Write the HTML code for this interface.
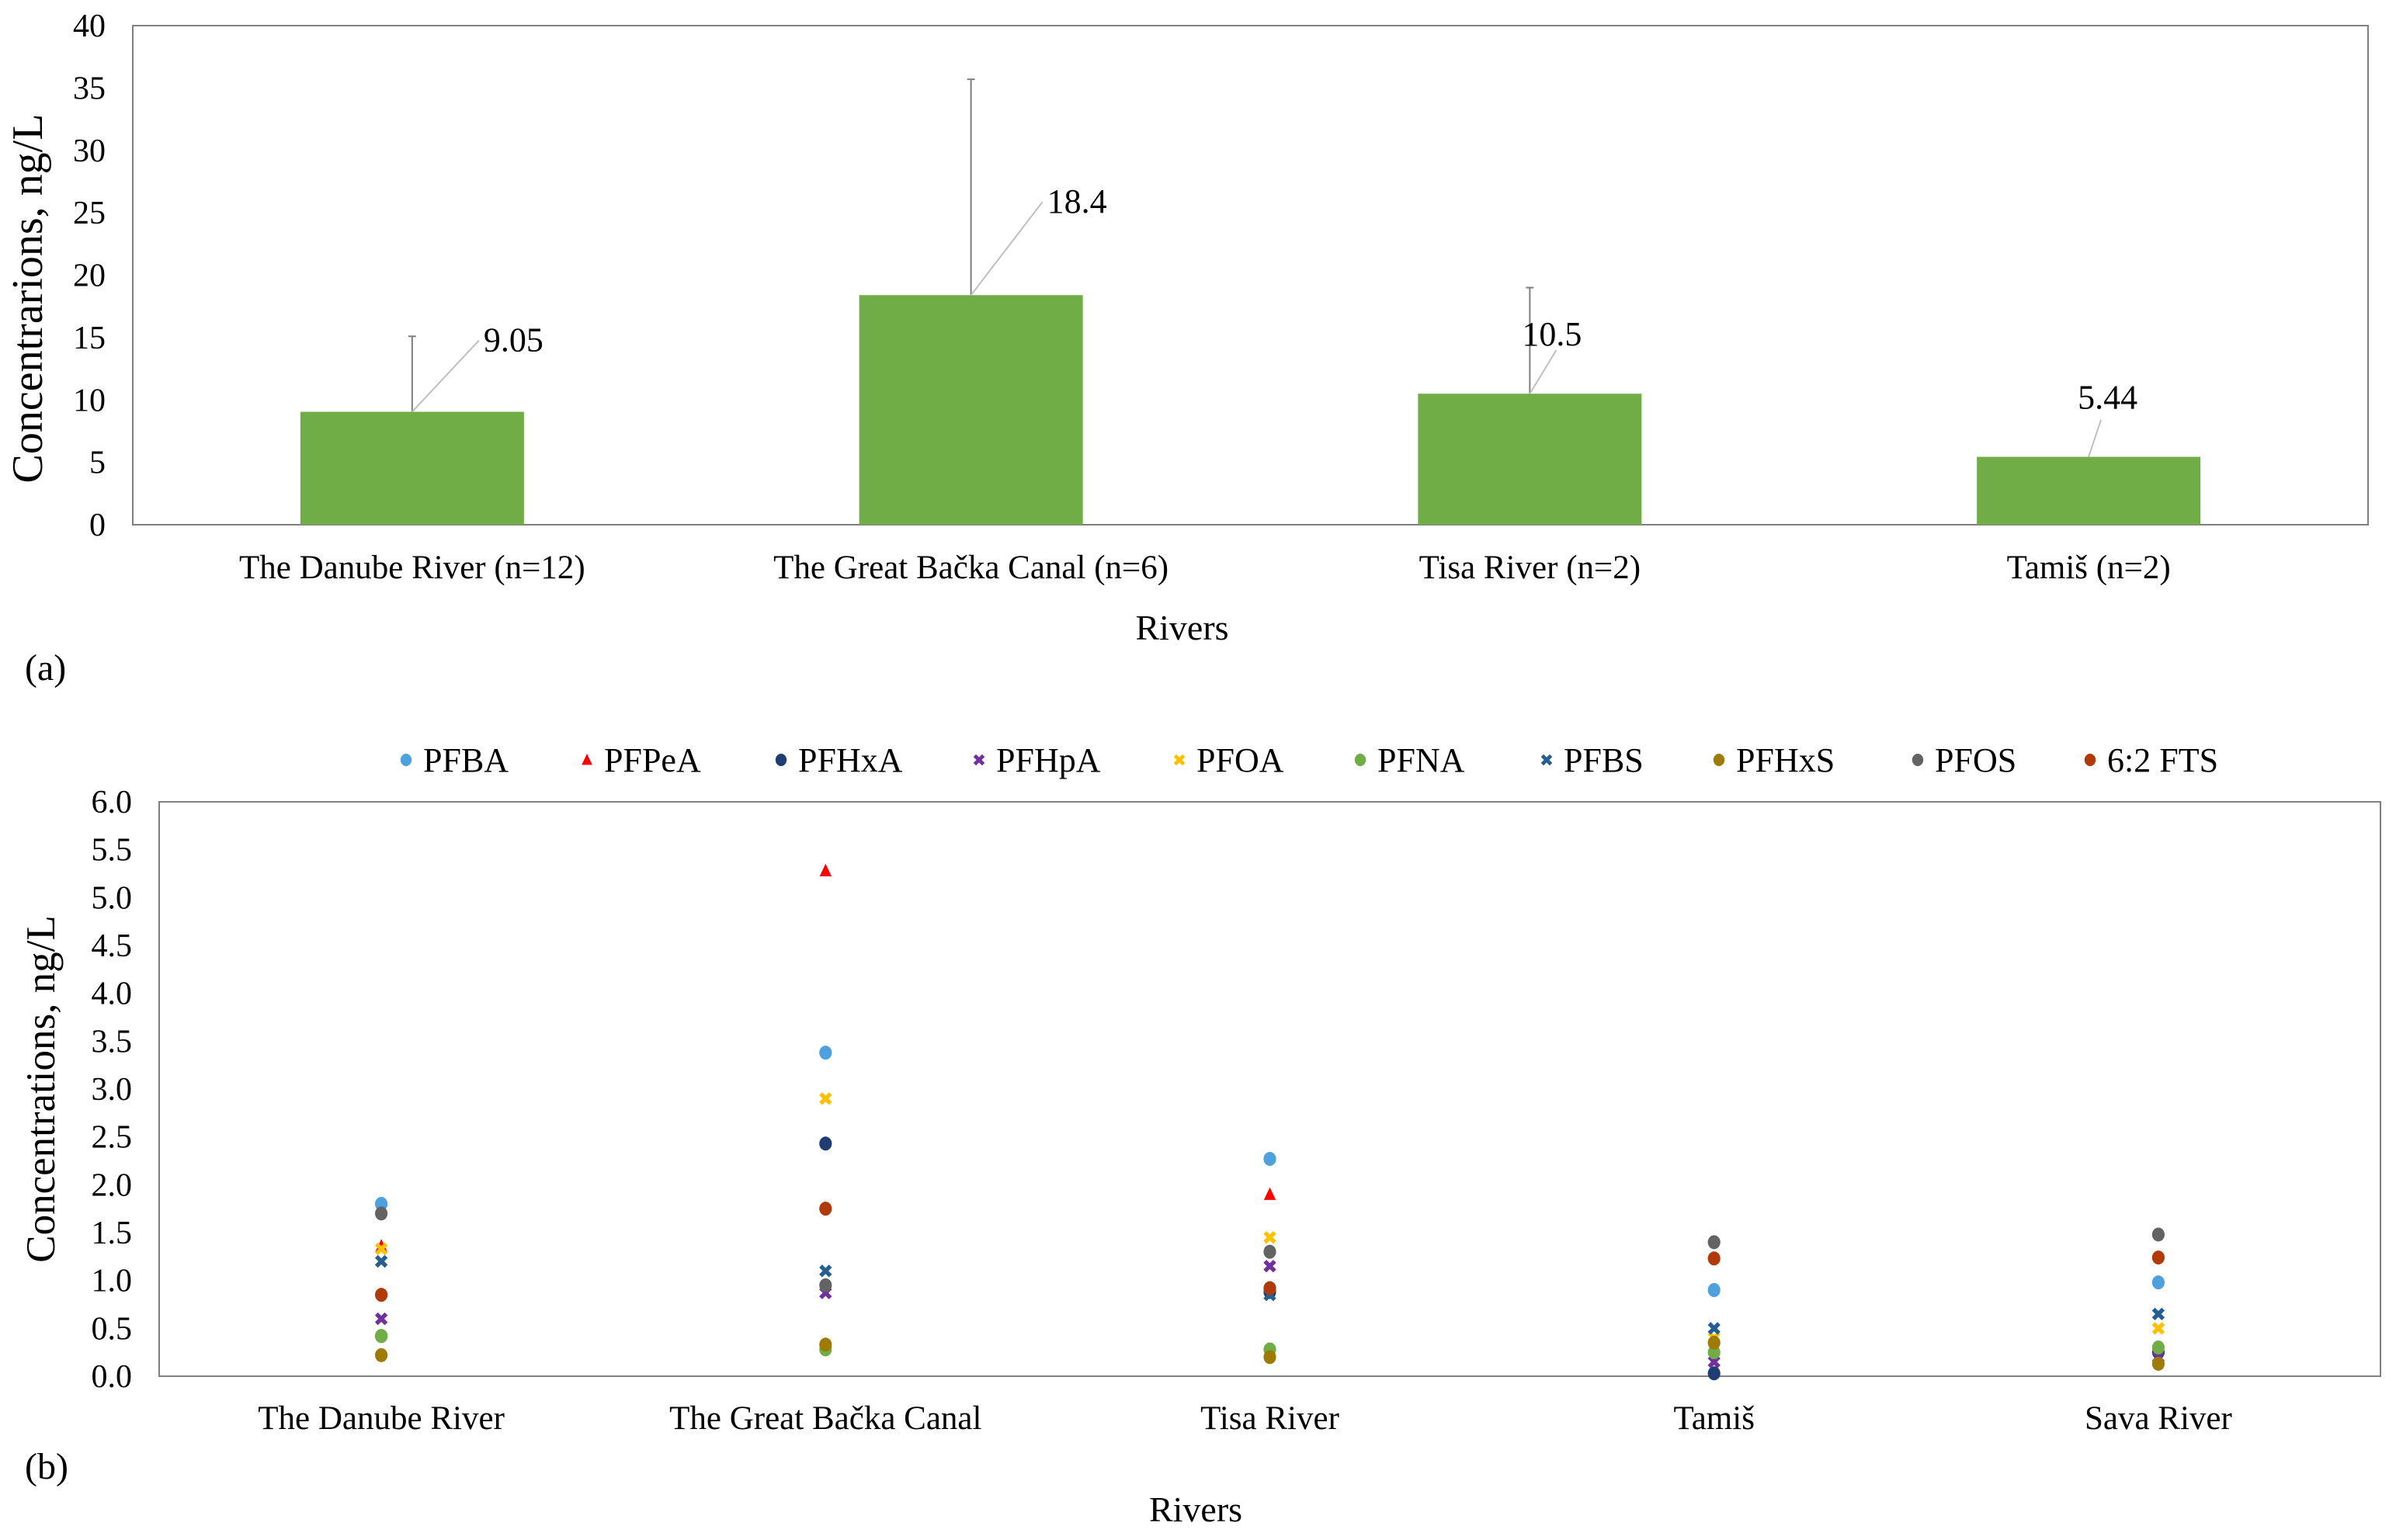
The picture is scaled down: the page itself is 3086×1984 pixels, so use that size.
<!DOCTYPE html>
<html><head><meta charset="utf-8"><style>
html,body{margin:0;padding:0;background:#fff}
svg{display:block;font-family:"Liberation Serif",serif}
</style></head><body>
<svg id="chart" width="3086" height="1984" viewBox="0 0 3086 1984" xmlns="http://www.w3.org/2000/svg">
<g id="a"></g>
<g id="b"></g>
</svg>
<script>
// ---- Chart (a) data ----
const catsA = ["The Danube River (n=12)", "The Great Bačka Canal (n=6)", "Tisa River (n=2)", "Tamiš (n=2)"];
const meansA = [9.05, 18.4, 10.5, 5.44];
const errTopA = [15.1, 35.7, 19.0, null];
const labelsA = ["9.05", "18.4", "10.5", "5.44"];
const ticksA = [0, 5, 10, 15, 20, 25, 30, 35, 40];
// ---- Chart (b) data ----
const catsB = ["The Danube River", "The Great Bačka Canal", "Tisa River", "Tamiš", "Sava River"];
const seriesNames = ["PFBA", "PFPeA", "PFHxA", "PFHpA", "PFOA", "PFNA", "PFBS", "PFHxS", "PFOS", "6:2 FTS"];
const PFBA  = [1.80, 3.38, 2.27, 0.90, 0.98];
const PFPeA = [1.36, 5.28, 1.90, null, null];
const PFHxA = [0.42, 2.43, 0.88, 0.03, 0.25];
const PFHpA = [0.60, 0.87, 1.15, 0.15, 0.20];
const PFOA  = [1.33, 2.90, 1.45, 0.40, 0.50];
const PFNA  = [0.42, 0.28, 0.28, 0.25, 0.30];
const PFBS  = [1.20, 1.10, 0.85, 0.50, 0.65];
const PFHxS = [0.22, 0.33, 0.20, 0.35, 0.13];
const PFOS  = [1.70, 0.95, 1.30, 1.40, 1.48];
const FTS62 = [0.85, 1.75, 0.92, 1.23, 1.24];
const ticksB = [0, 0.5, 1, 1.5, 2, 2.5, 3, 3.5, 4, 4.5, 5, 5.5, 6];

const NS = "http://www.w3.org/2000/svg";
function mk(parent, tag, attrs, text) {
  const e = document.createElementNS(NS, tag);
  for (const k in attrs) e.setAttribute(k, attrs[k]);
  if (text !== undefined) e.textContent = text;
  parent.appendChild(e);
  return e;
}

// ---------- Chart A ----------
(function () {
  const g = document.getElementById("a");
  const L = 171, R = 3050, T = 33, B = 676;
  const y = v => B - (v / 40) * (B - T);
  const bw = (R - L) / catsA.length;
  const x = i => L + bw * (i + 0.5);
  const frame = mk(g, "rect", {x: L, y: T, width: R - L, height: B - T, fill: "none", stroke: "#7f7f7f", "stroke-width": 2});
  
  
  ticksA.forEach(t => {
    const tl = mk(g, "text", {x: 136, y: y(t) + 14, "text-anchor": "end", "font-size": 42, fill: "#000"}, String(t));
    
    
  });
  meansA.forEach((v, i) => {
    const cx = x(i);
    const bar = mk(g, "rect", {x: cx - 144, y: y(v), width: 288, height: B - y(v), fill: "#70ad47"});
    
    
    if (errTopA[i] != null) {
      const el = mk(g, "line", {x1: cx, y1: y(v), x2: cx, y2: y(errTopA[i]), stroke: "#7f7f7f", "stroke-width": 2});
      
      
      const cap = mk(g, "line", {x1: cx - 5, y1: y(errTopA[i]), x2: cx + 5, y2: y(errTopA[i]), stroke: "#7f7f7f", "stroke-width": 2});
      
      
    }
    const offs = [[86, 92], [92, 120], [34, 56], [16, 48]][i];
    const lx = cx + offs[0], ly = y(v) - offs[1];
    const ll = mk(g, "line", {x1: cx, y1: y(v), x2: lx, y2: ly, stroke: "#bfbfbf", "stroke-width": 2});
    
    
    const tx = i === 2 ? lx - 44 : (i === 3 ? lx - 30 : lx + 6);
    const ty = i === 2 ? ly - 6 : (i === 3 ? ly - 14 : ly + 14);
    const dl = mk(g, "text", {x: tx, y: ty, "font-size": 44, fill: "#000"}, labelsA[i]);
    
    
    const cl = mk(g, "text", {x: cx, y: 745, "text-anchor": "middle", "font-size": 43, fill: "#000"}, catsA[i]);
    
    
  });
  const xt = mk(g, "text", {x: (L + R) / 2 - 88, y: 824, "text-anchor": "middle", "font-size": 46, fill: "#000"}, "Rivers");
  
  
  const yt = mk(g, "text", {x: 0, y: 0, transform: "translate(54," + ((T + B) / 2 + 30) + ") rotate(-90)", "text-anchor": "middle", "font-size": 56, fill: "#000"}, "Concentrarions, ng/L");
  
  
  const pl = mk(g, "text", {x: 32, y: 876, "font-size": 48, fill: "#000"}, "(a)");
  
  
})();

// ---------- Chart B ----------
(function () {
  const g = document.getElementById("b");
  const L = 205, R = 3066, T = 1033, B = 1773;
  const y = v => B - (v / 6) * (B - T);
  const bw = (R - L) / catsB.length;
  const x = i => L + bw * (i + 0.5);
  const frame = mk(g, "rect", {x: L, y: T, width: R - L, height: B - T, fill: "none", stroke: "#7f7f7f", "stroke-width": 2});
  
  
  ticksB.forEach(t => {
    const tl = mk(g, "text", {x: 170, y: y(t) + 14, "text-anchor": "end", "font-size": 42, fill: "#000"}, t.toFixed(1));
    
    
  });
  catsB.forEach((c, i) => {
    const cl = mk(g, "text", {x: x(i), y: 1841, "text-anchor": "middle", "font-size": 43, fill: "#000"}, c);
    
    
  });
  const colors = ["#4ea1dc", "#ff0000", "#1f3c73", "#7030a0", "#ffc000", "#70ad47", "#255e91", "#9e7a06", "#636363", "#b03a0a"];
  const shapes = ["c", "t", "c", "x", "x", "c", "x", "c", "c", "c"];
  const data = [PFBA, PFPeA, PFHxA, PFHpA, PFOA, PFNA, PFBS, PFHxS, PFOS, FTS62];
  function marker(par, shape, cx, cy, col, s) {
    let e;
    if (shape === "c") e = mk(par, "ellipse", {cx: cx, cy: cy, rx: s * 0.9, ry: s, fill: col});
    else if (shape === "t") e = mk(par, "polygon", {points: (cx) + "," + (cy - s) + " " + (cx - s * 0.85) + "," + (cy + s * 0.8) + " " + (cx + s * 0.85) + "," + (cy + s * 0.8), fill: col});
    else e = mk(par, "path", {d: "M" + (cx - s * 0.7) + " " + (cy - s * 0.7) + "L" + (cx + s * 0.7) + " " + (cy + s * 0.7) + "M" + (cx + s * 0.7) + " " + (cy - s * 0.7) + "L" + (cx - s * 0.7) + " " + (cy + s * 0.7), stroke: col, "stroke-width": s * 0.6, fill: "none"});
    return e;
  }
  data.forEach((arr, si) => {
    arr.forEach((v, i) => {
      if (v == null) return;
      const m = marker(g, shapes[si], x(i), y(v), colors[si], 9);
      
      
    });
  });
  const legX = [523, 756, 1006, 1261, 1519, 1752, 1992, 2214, 2470, 2692];
  seriesNames.forEach((n, si) => {
    const lg = mk(g, "g", {});
    
    
    marker(lg, shapes[si], legX[si], 979, colors[si], 8);
    mk(lg, "text", {x: legX[si] + 22, y: 994, "font-size": 44, fill: "#000"}, n);
  });
  const xt = mk(g, "text", {x: 1540, y: 1960, "text-anchor": "middle", "font-size": 46, fill: "#000"}, "Rivers");
  
  
  const yt = mk(g, "text", {x: 0, y: 0, transform: "translate(70," + ((T + B) / 2) + ") rotate(-90)", "text-anchor": "middle", "font-size": 53, fill: "#000"}, "Concentrations, ng/L");
  
  
  const pl = mk(g, "text", {x: 32, y: 1905, "font-size": 48, fill: "#000"}, "(b)");
  
  
})();
</script>
</body></html>
